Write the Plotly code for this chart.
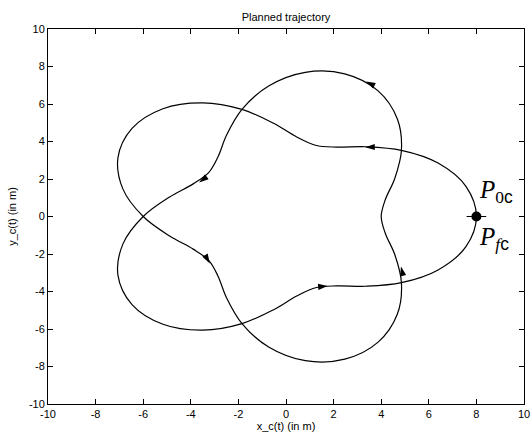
import numpy as np
import plotly.graph_objects as go

# Trajectory points (x_c, y_c in m), traversed in order
traj_x = [8.00, 7.56, 6.39, 4.85, 3.35, 2.13, 1.24, 0.45, -0.52, -1.85, -3.50, -5.17, -6.47, -7.06,
          -6.85, -6.00, -4.89, -3.90, -3.24, -2.86, -2.50, -1.85, -0.73, 0.81, 2.47, 3.87, 4.68, 4.85,
          4.57, 4.17, 4.00, 4.17, 4.57, 4.85, 4.68, 3.87, 2.47, 0.81, -0.73, -1.85, -2.50, -2.86,
          -3.24, -3.90, -4.89, -6.00, -6.85, -7.06, -6.47, -5.17, -3.50, -1.85, -0.52, 0.45, 1.24,
          2.13, 3.35, 4.85, 6.39, 7.56, 8.00]
traj_y = [0.00, 1.61, 2.85, 3.53, 3.72, 3.70, 3.80, 4.24, 4.97, 5.71, 6.06, 5.75, 4.70, 3.14,
          1.46, 0.00, -1.04, -1.74, -2.35, -3.17, -4.33, -5.71, -6.96, -7.69, -7.61, -6.70, -5.20, -3.53,
          -2.03, -0.89, 0.00, 0.89, 2.03, 3.53, 5.20, 6.70, 7.61, 7.69, 6.96, 5.71, 4.33, 3.17,
          2.35, 1.74, 1.04, 0.00, -1.46, -3.14, -4.70, -5.75, -6.06, -5.71, -4.97, -4.24, -3.80,
          -3.70, -3.72, -3.53, -2.85, -1.61, 0.00]

# direction arrows along the trajectory (positions)
arrow_x = [3.33, -3.2, 4.83, 3.36, -3.65, 1.75]
arrow_y = [3.70, -2.5, -2.67, 7.20, 1.82, -3.71]

# start / end point
p_x = [8.0]
p_y = [0.0]
label_0 = "<i>P</i><sub>0<span style='font-family:Liberation Sans'>c</span></sub>"
label_f = "<i>P</i><sub><i>f</i><span style='font-family:Liberation Sans'>c</span></sub>"

tick_vals = list(range(-10, 11, 2))

W, H = 531, 437
ML, MR, MT, MB = 48, 7, 29, 33
px_per_x = (W - ML - MR) / 20.0
px_per_y = (H - MT - MB) / 20.0

# arrow headings follow the local direction of the trajectory
tx = np.array(traj_x)
ty = np.array(traj_y)
mx = 0.5 * (tx[1:] + tx[:-1])
my = 0.5 * (ty[1:] + ty[:-1])
ang = []
for axp, ayp in zip(arrow_x, arrow_y):
    j = int(np.argmin((mx - axp) ** 2 + (my - ayp) ** 2))
    dx = (tx[j + 1] - tx[j]) * px_per_x
    dy = (ty[j + 1] - ty[j]) * px_per_y
    ang.append(float(np.degrees(np.arctan2(dx, dy))))

fig = go.Figure()
fig.add_trace(go.Scatter(x=traj_x, y=traj_y, mode="lines",
                         line=dict(color="black", width=1.2, shape="spline", smoothing=1.0),
                         hoverinfo="skip", showlegend=False))
fig.add_trace(go.Scatter(x=arrow_x, y=arrow_y, mode="markers",
                         marker=dict(symbol="arrow", size=10, angle=ang, color="black",
                                     line=dict(width=0)),
                         showlegend=False))
fig.add_trace(go.Scatter(x=p_x, y=p_y, mode="markers",
                         marker=dict(symbol="line-ew", size=14, line=dict(width=1, color="black")),
                         showlegend=False))
fig.add_trace(go.Scatter(x=p_x, y=p_y, mode="markers",
                         marker=dict(symbol="circle", size=10, color="black"),
                         showlegend=False))

fig.add_annotation(x=p_x[0], y=p_y[0], xref="x", yref="y", text=label_0, showarrow=False,
                   xanchor="left", yanchor="middle", xshift=1, yshift=25,
                   font=dict(family="Liberation Serif", size=25, color="black"))
fig.add_annotation(x=p_x[0], y=p_y[0], xref="x", yref="y", text=label_f, showarrow=False,
                   xanchor="left", yanchor="middle", xshift=1, yshift=-22,
                   font=dict(family="Liberation Serif", size=25, color="black"))

axis_common = dict(range=[-10, 10], tickvals=tick_vals, ticktext=[str(v) for v in tick_vals],
                   showgrid=False, zeroline=False, showline=True, linecolor="black", linewidth=1,
                   mirror="ticks", ticks="inside", ticklen=5, tickcolor="black", tickwidth=1,
                   tickfont=dict(family="Liberation Sans", size=11, color="black"),
                   ticklabeloverflow="allow", automargin=False)

fig.update_layout(
    width=W, height=H,
    margin=dict(l=ML, r=MR, t=MT, b=MB, pad=0),
    paper_bgcolor="white", plot_bgcolor="white",
    title=dict(text="Planned trajectory", x=(ML + 0.5 * (W - ML - MR)) / W, xanchor="center",
               y=1 - 17 / H, yanchor="middle",
               font=dict(family="Liberation Sans", size=11, color="black")),
    xaxis=dict(axis_common, title=dict(text="x_c(t) (in m)", standoff=2,
                                       font=dict(family="Liberation Sans", size=11, color="black"))),
    yaxis=dict(axis_common, title=dict(text="y_c(t) (in m)", standoff=10,
                                       font=dict(family="Liberation Sans", size=11, color="black"))),
)

# remove the default page margin so the figure fills the window exactly
fig.write_html("out.html",
               config={"displayModeBar": False},
               post_script="document.body.style.margin='0px';"
                           "document.body.style.overflow='hidden';")
